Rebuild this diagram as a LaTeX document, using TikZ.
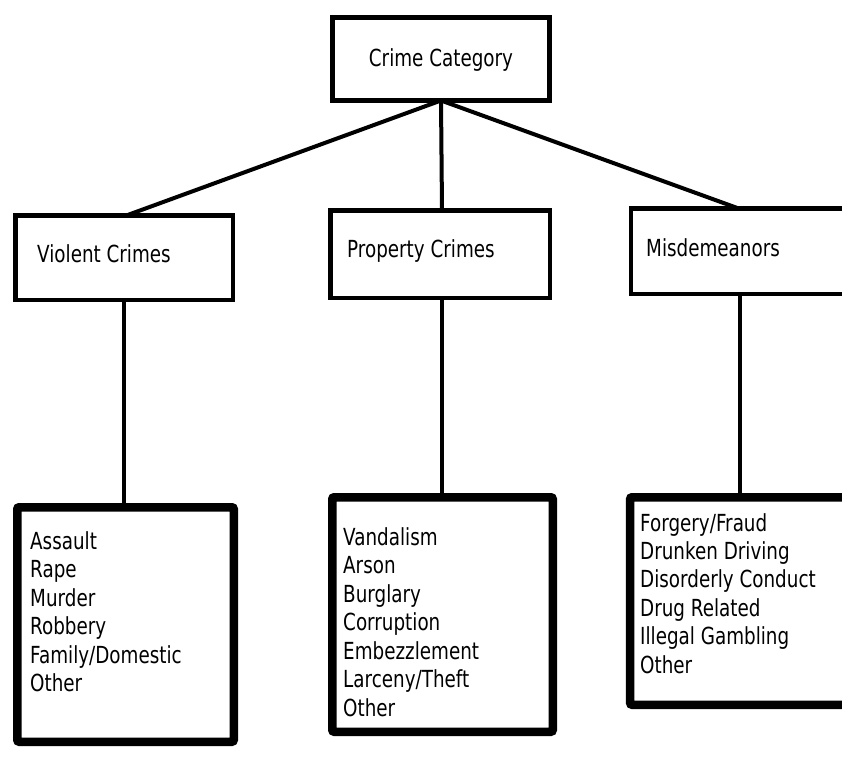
\documentclass[tikz,border=0pt]{standalone}
\usepackage{fontspec}
\newfontfamily\lblfont{DejaVu Sans}[FakeStretch=0.78]
\begin{document}
\begin{tikzpicture}[x=1pt,y=-1pt,
  box/.style={draw=black,rectangle,inner sep=0pt,outer sep=0pt},
  headbox/.style={box,line width=5pt},
  midbox/.style={box,line width=4.5pt},
  listbox/.style={box,line width=8.5pt,rounded corners=2pt},
  link/.style={line width=4pt},
  txt/.style={anchor=base west,inner sep=0pt,font=\lblfont\fontsize{23.5}{28.5}\selectfont}
]
\clip (0,0) rectangle (842,778);
\useasboundingbox (0,0) rectangle (842,778);

% category boxes
\node[headbox,minimum width=217pt,minimum height=83pt] (top) at (441,59) {};
\node[midbox,minimum width=217.5pt,minimum height=84.5pt] (vc) at (124,257.5) {};
\node[midbox,minimum width=219.5pt,minimum height=87.5pt] (pc) at (440,254) {};
\node[midbox,minimum width=238.75pt,minimum height=85.5pt] (md) at (750.6,251) {};

% list boxes
\node[listbox,minimum width=216.5pt,minimum height=234.5pt] (vb) at (125.5,624.5) {};
\node[listbox,minimum width=220.5pt,minimum height=234.5pt] (pb) at (442.5,614.5) {};
\node[listbox,minimum width=239.75pt,minimum height=207.5pt] (mb) at (750,601) {};

% connectors
\coordinate (vj) at ([xshift=3pt]vc.north);
\coordinate (mj) at ([xshift=-12.6pt]md.north);
\coordinate (pj) at ([xshift=2pt]pc.north);
\coordinate (mdown) at ([xshift=-10.6pt]md.south);
\coordinate (pdown) at ([xshift=2pt]pc.south);
\draw[link] (top.south) -- (vj);
\draw[link] (top.south) -- (pj);
\draw[link] (top.south) -- (mj);
\draw[link] (vc.south) -- (vc.south |- vb.north);
\draw[link] (pdown) -- (pdown |- pb.north);
\draw[link] (mdown) -- (mdown |- mb.north);

% headings
\node[txt,anchor=base] (tt) at (441,67) {Crime Category};
\node[txt] (vt) at (37,262) {Violent Crimes};
\node[txt] (pt) at (347,257) {Property Crimes};
\node[txt] (mt) at (646,256) {Misdemeanors};

% lists
\foreach \s [count=\i from 0] in {Assault,Rape,Murder,Robbery,Family/Domestic,Other}
  \node[txt] (va\i) at (30,549+28.5*\i) {\s};
\foreach \s [count=\i from 0] in {Vandalism,Arson,Burglary,Corruption,Embezzlement,Larceny/Theft,Other}
  \node[txt] (pa\i) at (343,545+28.5*\i) {\s};
\foreach \s [count=\i from 0] in {Forgery/Fraud,Drunken Driving,Disorderly Conduct,Drug Related,Illegal Gambling,Other}
  \node[txt] (ma\i) at (640,531+28.4*\i) {\s};
\end{tikzpicture}
\end{document}
